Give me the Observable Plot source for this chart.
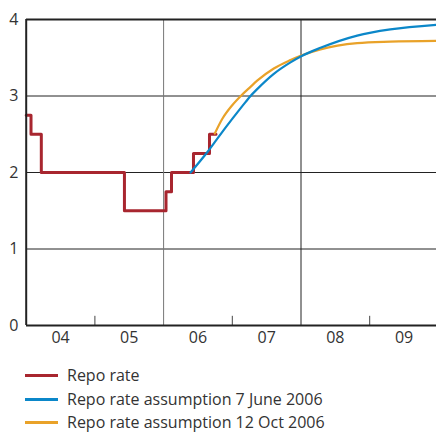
<!DOCTYPE html>
<html>
<head>
<meta charset="utf-8">
<script src="https://cdn.jsdelivr.net/npm/d3@7"></script>
<script src="https://cdn.jsdelivr.net/npm/@observablehq/plot@0.6"></script>
<style>
  html, body { margin: 0; padding: 0; background: #fff; }
  body { width: 436px; height: 432px; overflow: hidden; font-family: 'Open Sans', sans-serif; color: #333; }
  #legend { margin-top: 12px; }
  .row { position: relative; height: 23.5px; line-height: 23px; font-size: 16px; }
  .sw { position: absolute; left: 25px; top: 10px; width: 33px; height: 3px; }
  .lab { position: absolute; left: 67px; top: 0; white-space: nowrap; }
</style>
</head>
<body>
<div id="chart"></div>
<div id="legend"></div>
<script>
// Repo rate (step series), decimal years
const repoDates  = [2004.0, 2004.07, 2004.22, 2005.43, 2006.035, 2006.115, 2006.435, 2006.668, 2006.763];
const repoValues = [2.75,   2.5,     2.0,     1.5,     1.75,     2.0,      2.25,     2.5,      2.5];

// Repo rate assumption 7 June 2006
const juneDates  = [2006.392, 2006.635, 2006.804, 2006.999, 2007.192, 2007.265, 2007.362, 2007.604, 2007.847, 2008.003, 2008.284, 2008.818, 2009.30, 2009.97];
const juneValues = [2.00,     2.265,    2.47,     2.70,     2.92,     3.00,     3.09,     3.29,     3.44,     3.52,     3.63,     3.79,     3.87,    3.93];

// Repo rate assumption 12 Oct 2006
const octDates  = [2006.745, 2006.853, 2006.999, 2007.134, 2007.265, 2007.362, 2007.604, 2007.847, 2008.003, 2008.284, 2008.818, 2009.30, 2009.97];
const octValues = [2.51,     2.70,     2.88,     3.01,     3.12,     3.20,     3.36,     3.47,     3.53,     3.61,     3.69,     3.71,    3.72];

const yTicks = [0, 1, 2, 3, 4];
const labelPositions = [2004.5, 2005.5, 2006.5, 2007.5, 2008.5, 2009.5];
const xLabels = ["04", "05", "06", "07", "08", "09"];
const gridYears = [2006, 2008];
const tickYears = [2005, 2007, 2009];

const seriesNames = ["Repo rate", "Repo rate assumption 7 June 2006", "Repo rate assumption 12 Oct 2006"];
const seriesColors = ["#a8262f", "#0b87c9", "#e9a229"];

const repo = repoDates.map((d, i) => ({x: d, y: repoValues[i]}));
const june = juneDates.map((d, i) => ({x: d, y: juneValues[i]}));
const oct = octDates.map((d, i) => ({x: d, y: octValues[i]}));

const chart = Plot.plot({
  width: 436,
  height: 352,
  marginLeft: 26,
  marginRight: 0,
  marginTop: 19,
  marginBottom: 27,
  x: {domain: [2004, 2010], range: [25.7, 437.9]},
  y: {domain: [0, 4], range: [325, 19]},
  style: {fontFamily: "'Open Sans', sans-serif", fontSize: "16px", color: "#333", background: "white", overflow: "visible"},
  marks: [
    Plot.ruleY([1, 2, 3], {stroke: "#222", strokeWidth: 1}),
    Plot.ruleX(gridYears, {y1: 0, y2: 4, stroke: (d) => d === 2006 ? "#777" : "#222", strokeWidth: 1}),
    Plot.ruleX(tickYears, {y1: 0, y2: 0.12, stroke: "#444", strokeWidth: 1}),
    Plot.line(repo, {x: "x", y: "y", curve: "step-after", stroke: seriesColors[0], strokeWidth: 3}),
    Plot.line(oct, {x: "x", y: "y", curve: "monotone-x", stroke: seriesColors[2], strokeWidth: 2.2}),
    Plot.line(june, {x: "x", y: "y", curve: "monotone-x", stroke: seriesColors[1], strokeWidth: 2.2}),
    Plot.ruleY([0, 4], {stroke: "#222", strokeWidth: 2}),
    Plot.ruleX([2004], {y1: 0, y2: 4, stroke: "#222", strokeWidth: 2}),
    Plot.axisY({ticks: yTicks, tickSize: 0, tickPadding: 8, label: null, tickFormat: (d) => String(d)}),
    Plot.axisX({ticks: labelPositions, tickSize: 0, tickPadding: 6, label: null, tickFormat: (d) => xLabels[labelPositions.indexOf(d)]})
  ]
});
document.getElementById("chart").appendChild(chart);

const legend = document.getElementById("legend");
seriesNames.forEach((name, i) => {
  const row = document.createElement("div");
  row.className = "row";
  const sw = document.createElement("div");
  sw.className = "sw";
  sw.style.background = seriesColors[i];
  const lab = document.createElement("span");
  lab.className = "lab";
  lab.textContent = name;
  row.appendChild(sw);
  row.appendChild(lab);
  legend.appendChild(row);
});
</script>
</body>
</html>
